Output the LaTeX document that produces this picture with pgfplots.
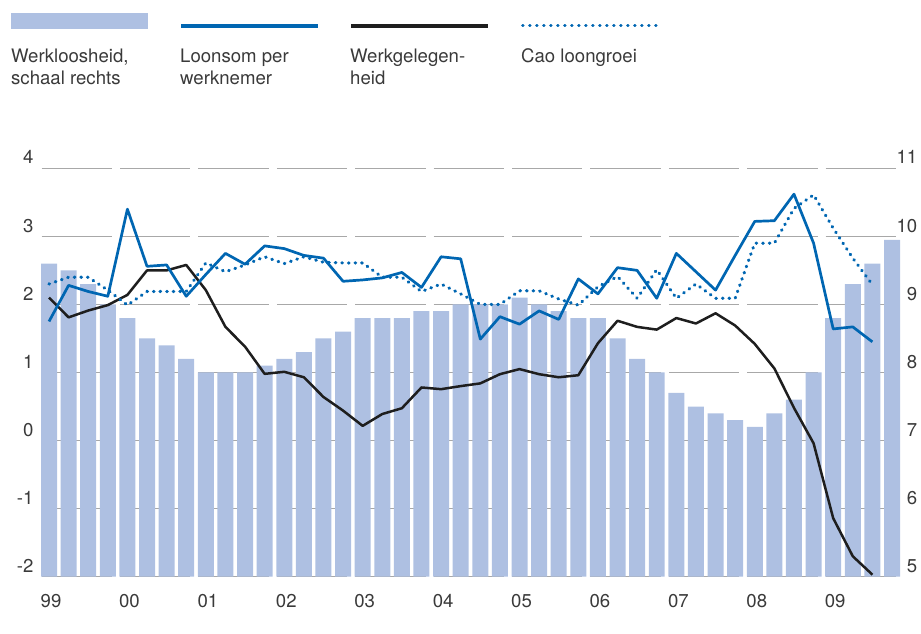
\documentclass[border=0pt]{standalone}
\usepackage{pgfplots}
\pgfplotsset{compat=1.18}
\usepackage{pgfplotstable}
\usepackage{fontspec}
\setmainfont{TeX Gyre Heros}
\definecolor{barc}{HTML}{AEC0E2}
\definecolor{bluec}{HTML}{0066B2}
\definecolor{blackc}{HTML}{1E1E1E}
\definecolor{txt}{HTML}{3A3A3A}
\definecolor{gridc}{HTML}{A8A8A8}

\pgfplotstableread{
x u
0 9.6
1 9.5
2 9.3
3 9.0
4 8.8
5 8.5
6 8.4
7 8.2
8 8.0
9 8.0
10 8.0
11 8.1
12 8.2
13 8.3
14 8.5
15 8.6
16 8.8
17 8.8
18 8.8
19 8.9
20 8.9
21 9.0
22 9.0
23 9.0
24 9.1
25 9.0
26 8.9
27 8.8
28 8.8
29 8.5
30 8.2
31 8.0
32 7.7
33 7.5
34 7.4
35 7.3
36 7.2
37 7.4
38 7.6
39 8.0
40 8.8
41 9.3
42 9.6
43 9.95
}\barsdata

\pgfplotstableread{
x loon cao werk
0 1.75 2.30 2.10
1 2.28 2.40 1.81
2 2.19 2.40 1.91
3 2.12 2.21 1.99
4 3.40 1.99 2.14
5 2.56 2.19 2.50
6 2.58 2.19 2.50
7 2.12 2.19 2.58
8 2.44 2.61 2.21
9 2.75 2.48 1.67
10 2.59 2.58 1.38
11 2.86 2.70 0.98
12 2.82 2.60 1.01
13 2.72 2.70 0.93
14 2.68 2.62 0.64
15 2.34 2.61 0.44
16 2.36 2.61 0.216
17 2.39 2.40 0.39
18 2.47 2.40 0.475
19 2.25 2.19 0.78
20 2.70 2.30 0.755
21 2.67 2.155 0.80
22 1.49 2.00 0.84
23 1.82 2.00 0.975
24 1.71 2.20 1.05
25 1.905 2.20 0.975
26 1.78 2.08 0.93
27 2.375 1.99 0.96
28 2.155 2.26 1.43
29 2.54 2.41 1.76
30 2.50 2.09 1.67
31 2.09 2.51 1.63
32 2.75 2.09 1.80
33 2.48 2.30 1.72
34 2.21 2.09 1.87
35 2.72 2.09 1.69
36 3.22 2.90 1.42
37 3.23 2.90 1.06
38 3.62 3.41 0.48
39 2.90 3.61 -0.04
40 1.64 3.12 -1.14
41 1.67 2.68 -1.70
42 1.45 2.29 -1.97
}\linesdata

\begin{document}
\fontsize{18.6}{22}\selectfont
\begin{tikzpicture}[x=1pt,y=1pt]
\useasboundingbox (0,0) rectangle (921,634);
\begin{axis}[
  scale only axis, width=862.6pt, height=408.4pt,
  at={(39.2pt,57.3pt)}, anchor=south west,
  xmin=-0.5, xmax=43.5, ymin=5, ymax=11,
  axis line style={draw=none}, major tick length=0pt, tick style={draw=none},
  xtick={0,4,...,40}, xticklabels={99,00,01,02,03,04,05,06,07,08,09},
  xticklabel style={anchor=base west, inner sep=0pt, xshift=-8.5pt, yshift=-30.6pt, text=txt, font=\fontsize{18.6}{22}\selectfont},
  ytick={5,...,11}, yticklabels={5,6,7,8,9,10,11},
  yticklabel pos=right,
  yticklabel style={anchor=base east, inner sep=0pt, xshift=15.7pt, yshift=4.3pt, text=txt, font=\fontsize{18.6}{22}\selectfont},
  ymajorgrids, major grid style={gridc, line width=1.2pt, dash pattern=on 70.4pt off 8pt, dash phase=76pt},
  ybar, bar width=0.816,
]
\addplot[fill=barc, draw=none, bar shift=0pt] table[x=x,y=u]{\barsdata};
\end{axis}
\begin{axis}[
  scale only axis, width=862.6pt, height=408.4pt,
  at={(39.2pt,57.3pt)}, anchor=south west,
  xmin=-0.5, xmax=43.5, ymin=-2, ymax=4,
  axis line style={draw=none}, major tick length=0pt, tick style={draw=none},
  xtick=\empty,
  ytick={-2,...,4}, yticklabels={-2,-1,0,1,2,3,4},
  yticklabel style={anchor=base east, inner sep=0pt, xshift=-5.5pt, yshift=4.3pt, text=txt, font=\fontsize{18.6}{22}\selectfont},
  clip=false,
]
\addplot[blackc, line width=2.5pt, line join=round] table[x=x,y=werk]{\linesdata};
\addplot[bluec, line width=3.2pt, line cap=round, dash pattern=on 0.6pt off 6pt] table[x=x,y=cao]{\linesdata};
\addplot[bluec, line width=2.7pt, line join=round] table[x=x,y=loon]{\linesdata};
\end{axis}
% legend
\fill[barc] (11,605) rectangle (147.7,621.3);
\draw[bluec, line width=3.3pt] (181,608)--(317.7,608);
\draw[blackc, line width=3.3pt] (351,608)--(487.7,608);
\draw[bluec, line width=3pt, line cap=round, dash pattern=on 0.6pt off 6.4pt] (522.5,608.3)--(658,608.3);
\begin{scope}[every node/.style={anchor=base west, inner sep=0pt, text=txt, font=\fontsize{18.6}{22}\selectfont}]
\node at (11,571.3) {Werkloosheid,};
\node at (11,549) {schaal rechts};
\node at (180,571.3) {Loonsom per};
\node at (180,549) {werknemer};
\node at (350,571.3) {Werkgelegen-};
\node at (350,549) {heid};
\node at (521,571.3) {Cao loongroei};
\end{scope}
\end{tikzpicture}
\end{document}
